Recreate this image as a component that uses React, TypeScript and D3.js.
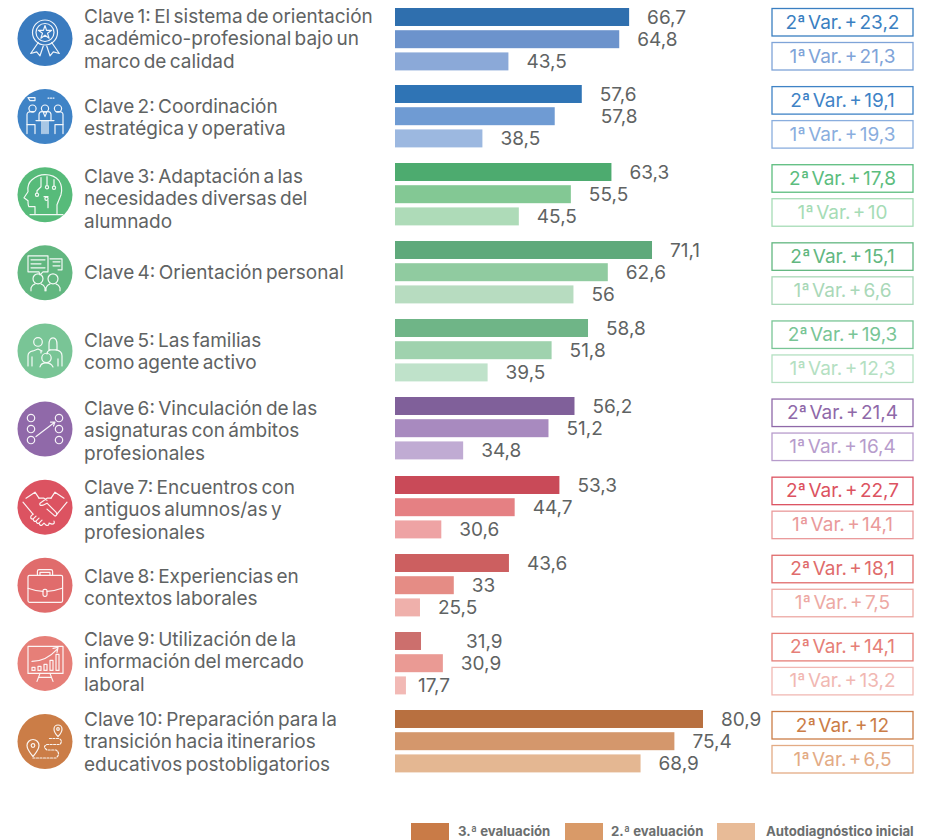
import * as d3 from "d3";

const claves = [
  ["Clave 1: El sistema de orientación", "académico-profesional bajo un", "marco de calidad"],
  ["Clave 2: Coordinación", "estratégica y operativa"],
  ["Clave 3: Adaptación a las", "necesidades diversas del", "alumnado"],
  ["Clave 4: Orientación personal"],
  ["Clave 5: Las familias", "como agente activo"],
  ["Clave 6: Vinculación de las", "asignaturas con ámbitos", "profesionales"],
  ["Clave 7: Encuentros con", "antiguos alumnos/as y", "profesionales"],
  ["Clave 8: Experiencias en", "contextos laborales"],
  ["Clave 9: Utilización de la", "información del mercado", "laboral"],
  ["Clave 10: Preparación para la", "transición hacia itinerarios", "educativos postobligatorios"],
];

const tercera = [66.7, 57.6, 63.3, 71.1, 58.8, 56.2, 53.3, 43.6, 31.9, 80.9];
const segunda = [64.8, 57.8, 55.5, 62.6, 51.8, 51.2, 44.7, 33, 30.9, 75.4];
const inicial = [43.5, 38.5, 45.5, 56, 39.5, 34.8, 30.6, 25.5, 17.7, 68.9];

// a few bars in the picture are not as long as their printed value says
const tercera_barra = [66.7, 57.6, 63.3, 71.1, 58.8, 56.2, 53.3, 43.6, 26.7, 80.9];
const segunda_barra = [64.8, 52.4, 55.5, 62.6, 51.8, 51.2, 44.7, 33, 30.9, 75.4];
const inicial_barra = [43.5, 38.5, 45.5, 56, 39.5, 34.8, 30.6, 26.5, 23.8, 68.9];

const var2 = [23.2, 19.1, 17.8, 15.1, 19.3, 21.4, 22.7, 18.1, 14.1, 12];
const var1 = [21.3, 19.3, 10, 6.6, 12.3, 16.4, 14.1, 7.5, 13.2, 6.5];

const circleColors = ["#3a7bbf", "#3f83c6", "#57bb7a", "#62b780", "#79c596", "#9069a9", "#dc5361", "#e06c6c", "#e67f78", "#cb7d47"];
const barColors = [
  ["#2f6fae", "#6c93cc", "#8ba9d8"],
  ["#2f74b5", "#6f9bd3", "#9cb8e0"],
  ["#4dab6f", "#83c894", "#aedbb8"],
  ["#5fa97b", "#90cba0", "#b7dcc0"],
  ["#6fb587", "#9fd2ae", "#bfe2ca"],
  ["#80609a", "#a88abf", "#c0abd3"],
  ["#c94a58", "#e58083", "#eea3a4"],
  ["#cc5f60", "#e58c85", "#efb0ab"],
  ["#cc6f6d", "#ea9a94", "#f2b9b5"],
  ["#b87040", "#d4976c", "#e4b792"],
];
const boxColors = [
  ["#3a7fc1", "#7fa4d8"],
  ["#3f83c6", "#8aaede"],
  ["#5cbd7e", "#a6dcb6"],
  ["#62b780", "#a9d8b8"],
  ["#79c596", "#b4e0c2"],
  ["#8f69a9", "#b79ccc"],
  ["#dc5361", "#ea9a9b"],
  ["#e06c6c", "#eda9a4"],
  ["#e67f78", "#f1b8b3"],
  ["#cb7d47", "#e3ab85"],
];

const legendLabels = ["3.ª evaluación", "2.ª evaluación", "Autodiagnóstico inicial"];
const legendColors = ["#c97b47", "#d99a68", "#e8bb97"];

// layout, measured row by row because the rows are not evenly spaced
const rowTops = [8, 85, 163, 241, 319, 397, 476, 554, 632, 710];
const firstBaselines = [23, 113, 183, 279, 347, 415, 494, 583, 646, 726];

const textColor = "#5f6363";
const font = "Inter, 'Open Sans', sans-serif";

const fmt = (v: number) => String(v).replace(".", ",");

const x = d3.scaleLinear().domain([21.7, 80.9]).range([395, 703]);
const boxY = d3.scaleLinear().domain([0, 9]).range([8.5, 711.5]);
const circleY = d3.scaleLinear().domain([0, 9]).range([38.5, 741.5]);
const barOffset = d3.scaleBand<number>().domain([0, 1, 2]).range([0, 62.4]).paddingInner(0.19);

const star = d3.symbol(d3.symbolStar, 55)() as string;

const icons = [
  <g>
    <circle cy={-6} r={12.5} />
    <circle cy={-6} r={9} />
    <path d={star} transform="translate(0,-6)" />
    <path d="M-6.7 4-14.3 15-8.3 13.3-5 17.3-1.7 7.5M6.7 4 14.3 15 8.3 13.3 5 17.3 1.7 7.5" />
  </g>,
  <g>
    <circle cx={-12.5} cy={-8} r={3.6} />
    <circle cy={-8} r={3.6} />
    <circle cx={13} cy={-8} r={3.6} />
    <path d="M-17 -19h7v3h-5zM3 -18.5h1M5.5 -18.5h1M8 -18.5h1" />
    <path d="M-18 8v-10q0-3 4-3h3M18 8v-10q0-3-4-3h-3M-6 4v-6q0-3 3-3h6q3 0 3 3v6M-2 -5 0 0 2 -5" />
    <path d="M-9 4h18M-3 4v13M3 4v13M-1 4v13M1 4v13M-18 8h8v9M-18 8v9M18 8h-8v9M18 8v9" />
  </g>,
  <g>
    <path d="M-10 19v-7h-6q-1-1-1-6l-4-3 4-6q-1-8 4-12 6-5 13-5 9 0 14 6 4 6 2 14l-4 10v9M-15 20h33" />
    <path d="M-4 -17v9l-4 4v2M2 -18v8M9 -15v6M3 6v7M-1 2h4" />
    <circle cx={-8} cy={0} r={1.6} />
    <circle cx={2} cy={-7.5} r={1.6} />
    <circle cx={9} cy={-7} r={1.6} />
    <circle cx={1.5} cy={4} r={1.6} />
  </g>,
  <g>
    <path d="M-17 -17h20v16h-5l-3 3-1-3h-11zM5 -14h12v11h-4" />
    <path d="M-14 -13h14M-14 -9h10M-14 -5h14M8 -11h7M8 -7h7" />
    <circle cx={-7} cy={6} r={5} />
    <circle cx={8} cy={6} r={5} />
    <path d="M-14 18v-3q1-3 4-4M0 18v-3q-1-3-4-4M1 18v-3q1-3 4-4M15 18v-3q-1-3-4-4" />
  </g>,
  <g>
    <circle cx={-7} cy={-9} r={4.3} />
    <path d="M4 -6q0-7 4-7t4 7v5h-8zM-17 15v-10q0-4 5-5l5-2 4 2M-13 15V6M-4 2V0" />
    <path d="M5 -1q-3 1-3 4M11 -1q6 1 6 6v10M13 15V8" />
    <circle cx={1.5} cy={7} r={4.7} />
    <path d="M-5 16q1-4 6-4t7 4" />
  </g>,
  <g>
    <circle cx={-14} cy={-11} r={3.7} />
    <circle cx={-14} cy={0} r={3.7} />
    <circle cx={-14} cy={11} r={3.7} />
    <circle cx={14} cy={-11} r={3.7} />
    <circle cx={14} cy={0} r={3.7} />
    <circle cx={14} cy={11} r={3.7} />
    <path d="M-9 7.5 10 -7M5.5 -7 10 -7 8.5 -3" />
  </g>,
  <g>
    <path d="M-22 -5-12 7M-19 -9-10 -15-6 -9M22 -5 12 7M19 -9 10 -15 6 -9" />
    <path d="M-6 -9h5l3 2M6 -9h-4l-7 5q-1 3 3 2l4-2 9 9q2 3-1 4l-8-7M-12 7l-2 2q-1 3 2 3l3-3M-12 12q1 3 3 2l3-3M-9 14q1 3 3 2l3-3M-6 16q1 3 3 2l2-2 2 2q3 1 3-2l3 1q3 0 2-3" />
  </g>,
  <g>
    <rect x={-17} y={-10} width={34.6} height={27} rx={1.5} />
    <path d="M-7.6 -10v-4q0-1.7 1.7-1.7h11.8q1.7 0 1.7 1.7v4M-5 -10v-3h10v3" />
    <path d="M-17 3q8 3 15 3M17 3q-8 3-15 3" />
    <rect x={-2} y={4} width={4} height={7} rx={1.5} />
  </g>,
  <g>
    <rect x={-17} y={-17} width={35} height={27} />
    <path d="M-5 10-8 18M5 10 8 18M-6 14h12" />
    <path d="M-13 7v-3h3v3zM-7 7v-4h3v4zM-1 7v-6h3v6zM5 7v-10h3v10zM11 7v-16h3v16z" />
    <path d="M-13 -2q14 0 25 -12M8 -15l5 -1-1 5" />
  </g>,
  <g>
    <path d="M-12 15q-6-7-6-11a6 6 0 0 1 12 0q0 4-6 11z" />
    <circle cx={-12} cy={4} r={1.8} />
    <path d="M13 -5q-4-4-4-7.5a4 4 0 0 1 8 0q0 3.5-4 7.5z" />
    <circle cx={13} cy={-12.5} r={1.3} />
    <path strokeDasharray="2 1.5" d="M-12 16.5H11Q16 12 11 8.5H2Q-3 5 2 3H15Q18 -1 14 -3H3" />
  </g>,
];

const App = () => {
  return (
    <svg width={933} height={840} style={{ position: "absolute", left: 0, top: 0, background: "#fff" }} fontFamily={font}>
      {claves.map((lines, i) => {
        const series = [tercera_barra[i], segunda_barra[i], inicial_barra[i]];
        const printed = [tercera[i], segunda[i], inicial[i]];
        return (
          <g key={i}>
            <circle cx={45} cy={circleY(i)} r={27.5} fill={circleColors[i]} />
            <g transform={`translate(45,${circleY(i)})`} fill="none" stroke="#fff" strokeWidth={1.2} strokeLinejoin="round" strokeLinecap="round" opacity={0.92}>
              {icons[i]}
            </g>
            {lines.map((line, j) => (
              <text key={j} x={84} y={firstBaselines[i] + j * 22.4} fontSize={19} wordSpacing={-2} fill={textColor}>
                {line}
              </text>
            ))}
            {series.map((v, j) => {
              const y0 = rowTops[i] + (barOffset(j) as number);
              const h = barOffset.bandwidth();
              // the label follows the printed value when the bar falls short of it
              const labelX = x(Math.max(v, printed[j])) + (v < 24 ? 12 : 18);
              return (
                <g key={j}>
                  <rect x={x.range()[0]} y={y0} width={x(v) - x.range()[0]} height={h} fill={barColors[i][j]} />
                  <text x={labelX} y={y0 + h / 2 + 7} fontSize={19} fill={textColor}>
                    {fmt(printed[j])}
                  </text>
                </g>
              );
            })}
            {[var2[i], var1[i]].map((v, j) => {
              const y0 = boxY(i) + j * 34;
              return (
                <g key={j}>
                  <rect x={772} y={y0} width={141} height={27.5} fill="#fff" stroke={boxColors[i][j]} strokeWidth={1.3} />
                  <text x={842.5} y={y0 + 20} textAnchor="middle" fontSize={19} wordSpacing={-3} fill={boxColors[i][j]}>
                    {`${2 - j}ª Var. + ${fmt(v)}`}
                  </text>
                </g>
              );
            })}
          </g>
        );
      })}
      {legendLabels.map((label, i) => (
        <g key={label}>
          <rect x={[411, 565, 717][i]} y={823} width={38} height={17} fill={legendColors[i]} />
          <text x={[458, 611, 766][i]} y={836} fontSize={13.2} fontWeight={700} fill="#6b6e6e">
            {label}
          </text>
        </g>
      ))}
    </svg>
  );
};

export default App;
